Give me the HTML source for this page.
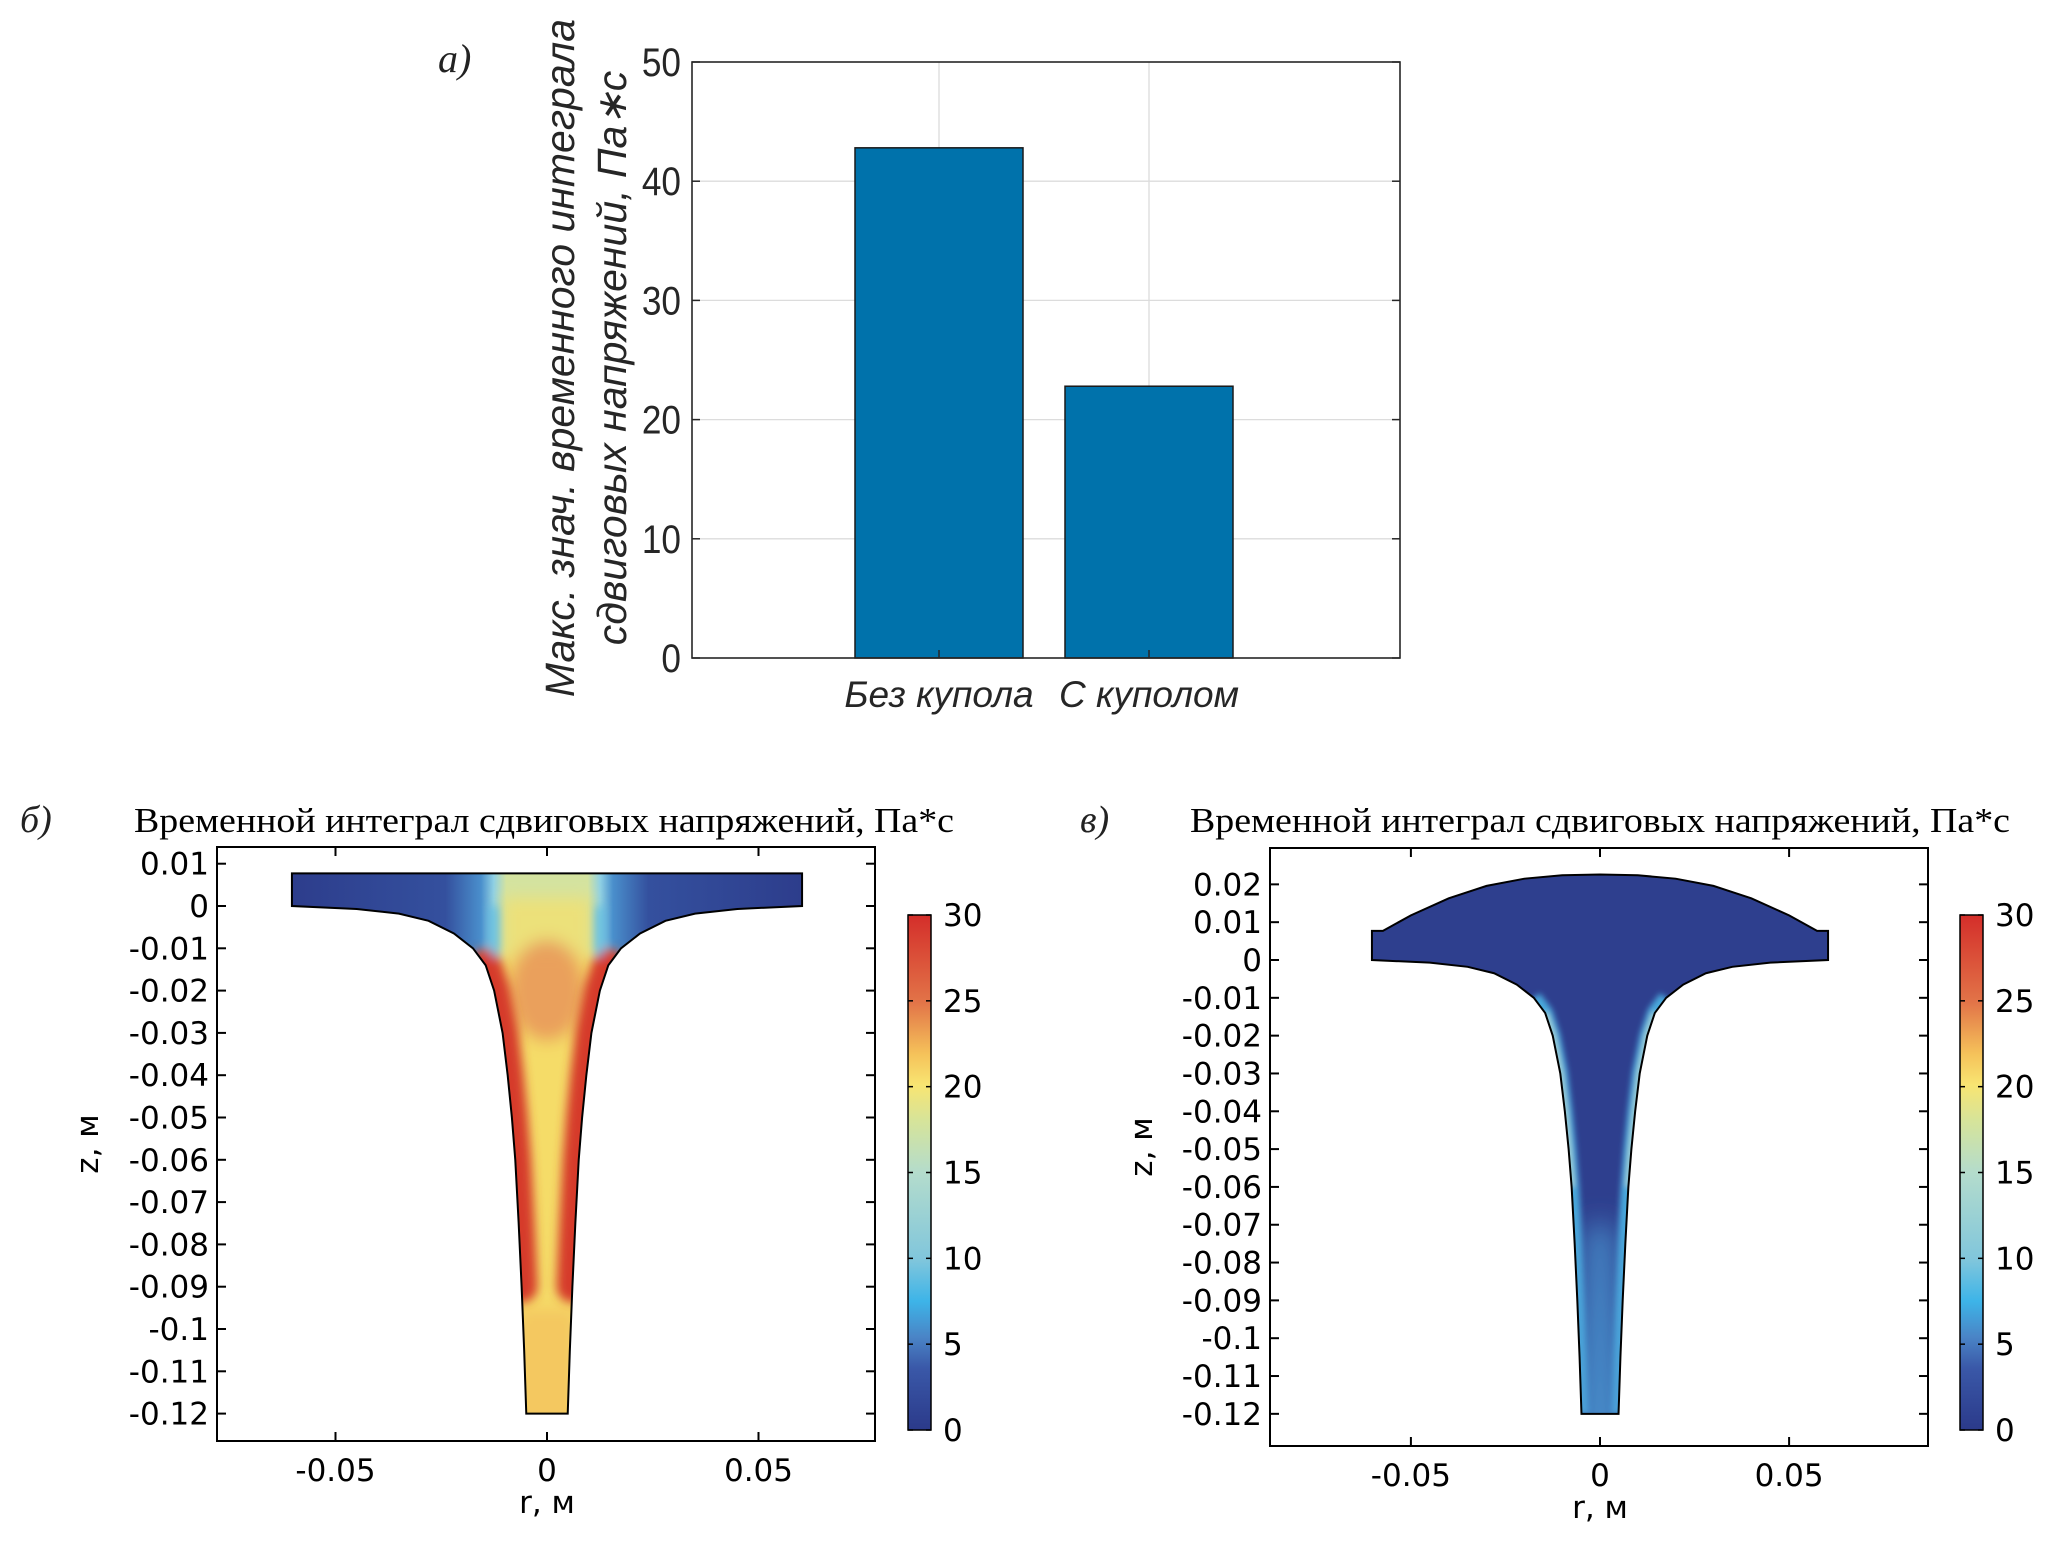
<!DOCTYPE html>
<html><head><meta charset="utf-8"><style>
html,body{margin:0;padding:0;background:#fff}
svg{display:block}
.sans{font-family:"Liberation Sans",sans-serif}
.dj{font-family:"DejaVu Sans","Liberation Sans",sans-serif}
.ser{font-family:"Liberation Serif",serif}
</style></head><body>
<svg id="svg" width="2067" height="1546" viewBox="0 0 2067 1546" xmlns="http://www.w3.org/2000/svg">
<defs>
<linearGradient id="cmap" x1="0" y1="1" x2="0" y2="0">
<stop offset="0" stop-color="#2b3a8a"/><stop offset="0.12" stop-color="#3a58a8"/><stop offset="0.18" stop-color="#4a84c6"/>
<stop offset="0.25" stop-color="#3db4e8"/><stop offset="0.33" stop-color="#80c6dc"/><stop offset="0.5" stop-color="#b4dccc"/>
<stop offset="0.6" stop-color="#d6e49a"/><stop offset="0.67" stop-color="#f8e572"/><stop offset="0.73" stop-color="#f5c25a"/>
<stop offset="0.83" stop-color="#e27448"/><stop offset="1" stop-color="#d42e2a"/>
</linearGradient>
<filter id="blur8" x="-50%" y="-50%" width="200%" height="200%"><feGaussianBlur stdDeviation="8"/></filter>
<filter id="blur5" x="-50%" y="-50%" width="200%" height="200%"><feGaussianBlur stdDeviation="5"/></filter>
<filter id="blur3" x="-50%" y="-50%" width="200%" height="200%"><feGaussianBlur stdDeviation="3"/></filter>
<filter id="blur14" x="-50%" y="-50%" width="200%" height="200%"><feGaussianBlur stdDeviation="14"/></filter>
</defs>
<g id="barchart"></g>
<g id="panelB"></g>
<g id="panelC"></g>
</svg>
<script>
const categories = ["Без купола", "С куполом"];
const barValues = [42.8, 22.8];
const barTicks = [0, 10, 20, 30, 40, 50];
const wallR = [0.06, 0.045, 0.035, 0.028, 0.022, 0.0175, 0.0145, 0.0125, 0.0105, 0.0093, 0.0083, 0.0075, 0.0067, 0.006, 0.0054, 0.0049];
const wallZ = [0, -0.0007, -0.0018, -0.0035, -0.0065, -0.0100, -0.0140, -0.0200, -0.0300, -0.0400, -0.0500, -0.0600, -0.0750, -0.0900, -0.1050, -0.1200];
const domeR = [0.0574, 0.05, 0.04, 0.03, 0.02, 0.01, 0];
const domeZ = [0.0077, 0.0118, 0.0163, 0.0196, 0.0215, 0.0224, 0.0226];
const rimTop = 0.0077;
const rimR = 0.0603;
const xTicksR = [-0.05, 0, 0.05];
const xTickLabels = ["-0.05", "0", "0.05"];
const yTicksB = [0.01,0,-0.01,-0.02,-0.03,-0.04,-0.05,-0.06,-0.07,-0.08,-0.09,-0.1,-0.11,-0.12];
const yTicksC = [0.02,0.01,0,-0.01,-0.02,-0.03,-0.04,-0.05,-0.06,-0.07,-0.08,-0.09,-0.1,-0.11,-0.12];
const cbTicks = [0,5,10,15,20,25,30];

const NS="http://www.w3.org/2000/svg";
function mk(parent,tag,attrs,text){const e=document.createElementNS(NS,tag);for(const k in attrs)e.setAttribute(k,attrs[k]);if(text!==undefined)e.textContent=text;parent.appendChild(e);return e;}
function fmt(v){return v===0?"0":String(v);}

// ---------- Bar chart ----------
(function(){
const g=document.getElementById('barchart');
const L=692,R=1400,T=62,B=658;
const y=v=>B-(v/50)*(B-T);
const xc=[939,1149], bw=168;
mk(g,'rect',{x:L,y:T,width:R-L,height:B-T,fill:'#fff'});
barTicks.forEach(t=>{ if(t>0&&t<50){const l=mk(g,'line',{x1:L,x2:R,y1:y(t),y2:y(t),stroke:'#dcdcdc','stroke-width':1.3});

}});
xc.forEach(c=>{const l=mk(g,'line',{x1:c,x2:c,y1:T,y2:B,stroke:'#dcdcdc','stroke-width':1.3});

});
barValues.forEach((v,i)=>{const r=mk(g,'rect',{x:xc[i]-bw/2,y:y(v),width:bw,height:B-y(v),fill:'#0072ab',stroke:'#1a1a1a','stroke-width':1.5});

});
mk(g,'rect',{x:L,y:T,width:R-L,height:B-T,fill:'none',stroke:'#262626','stroke-width':1.6});
barTicks.forEach(t=>{mk(g,'line',{x1:L,x2:L+8,y1:y(t),y2:y(t),stroke:'#262626','stroke-width':1.5});mk(g,'line',{x1:R-8,x2:R,y1:y(t),y2:y(t),stroke:'#262626','stroke-width':1.5});
const tx=mk(g,'text',{x:681/0.88,y:y(t)+14,'text-anchor':'end','font-size':40,class:'sans',fill:'#262626',transform:'scale(0.88,1)'},t);

});
xc.forEach((c,i)=>{mk(g,'line',{x1:c,x2:c,y1:B-8,y2:B,stroke:'#262626','stroke-width':1.5});
const tx=mk(g,'text',{x:c,y:707,'text-anchor':'middle','font-size':37,'font-style':'italic',class:'sans',fill:'#262626'},categories[i]);

});
const yl=mk(g,'text',{transform:'translate(574,358) rotate(-90)','text-anchor':'middle','font-size':41,'font-style':'italic',class:'sans',fill:'#262626'},'Макс. знач. временного интеграла');


const yl2=mk(g,'text',{transform:'translate(626,358) rotate(-90)','text-anchor':'middle','font-size':41,'font-style':'italic',class:'sans',fill:'#262626'},'сдвиговых напряжений, Па∗с');


const lb=mk(g,'text',{x:438,y:72,'font-size':40,'font-style':'italic',class:'ser',fill:'#222'},'а)');


})();

// ---------- Contour panels ----------
function shapePath(xr,yz,dome){
let d=`M${xr(-rimR)},${yz(0)} L${xr(-rimR)},${yz(rimTop)} `;
if(dome){ d+=`L${xr(-domeR[0])},${yz(rimTop)} `;
 for(let i=1;i<domeR.length;i++) d+=`L${xr(-domeR[i])},${yz(domeZ[i])} `;
 for(let i=domeR.length-2;i>=0;i--) d+=`L${xr(domeR[i])},${yz(domeZ[i])} `;
}
d+=`L${xr(rimR)},${yz(rimTop)} L${xr(rimR)},${yz(0)} `;
for(let i=1;i<wallR.length;i++) d+=`L${xr(wallR[i])},${yz(wallZ[i])} `;
for(let i=wallR.length-1;i>=1;i--) d+=`L${xr(-wallR[i])},${yz(wallZ[i])} `;
return d+'Z';
}
function wallPath(xr,yz,side,scale,from,to){
let d='';for(let i=from;i<=to;i++){d+=(i===from?'M':'L')+xr(side*wallR[i]*scale)+','+yz(wallZ[i])+' ';}return d;
}
function panel(id,o){
const g=document.getElementById(id);
const {L,R,T,B,x0,y0,k,yt,dome,lab,labX,titleX,cbx}=o;
const xr=r=>x0+r*k, yz=z=>y0-z*k;
const cid='clip'+id;
const cp=mk(g,'clipPath',{id:cid});mk(cp,'path',{d:shapePath(xr,yz,dome)});
const fill=mk(g,'g',{'clip-path':`url(#${cid})`});


const gid='hg'+id;
const gr=mk(g,'linearGradient',{id:gid,x1:xr(-0.06),x2:xr(0.06),y1:0,y2:0,gradientUnits:'userSpaceOnUse'});
if(!dome){
 [[0,'#2d3d8c'],[0.3,'#34509e'],[0.37,'#4a8fcc'],[0.395,'#8fd0e4'],[0.42,'#d4e3a0'],[0.58,'#d4e3a0'],[0.605,'#8fd0e4'],[0.63,'#4a8fcc'],[0.7,'#34509e'],[1,'#2d3d8c']].forEach(s=>mk(gr,'stop',{offset:s[0],'stop-color':s[1]}));
 mk(fill,'rect',{x:L,y:T,width:R-L,height:B-T,fill:`url(#${gid})`});
 const bl=mk(fill,'g',{filter:'url(#blur8)'});
 mk(bl,'rect',{x:xr(-0.0105),y:yz(0.002),width:0.021*k,height:0.02*k,fill:'#f3e070',opacity:0.8});
 mk(bl,'path',{d:`M${xr(-0.016)},${yz(-0.012)} L${xr(0.016)},${yz(-0.012)} L${xr(0.01)},${yz(-0.13)} L${xr(-0.01)},${yz(-0.13)} Z`,fill:'#f5dc68'});
 mk(bl,'ellipse',{cx:xr(0),cy:yz(-0.02),rx:0.009*k,ry:0.012*k,fill:'#e8955a',opacity:0.85});
 mk(bl,'rect',{x:xr(-0.007),y:yz(-0.095),width:0.014*k,height:0.035*k,fill:'#f4c860'});
 const bl2=mk(fill,'g',{filter:'url(#blur5)'});
 [-1,1].forEach(s=>{mk(bl2,'path',{d:wallPath(xr,yz,s,1.0,6,13),fill:'none',stroke:'#d63a2c','stroke-width':0.0075*k,'stroke-linecap':'round'});});
 [-1,1].forEach(s=>{mk(bl2,'path',{d:`M${xr(s*0.0125)},${yz(-0.0)} L${xr(s*0.0125)},${yz(-0.012)}`,fill:'none',stroke:'#45b3e6','stroke-width':6});});
}else{
 mk(fill,'rect',{x:L,y:T,width:R-L,height:B-T,fill:'#2e3f8e'});
 const bl=mk(fill,'g',{filter:'url(#blur3)'});
 [-1,1].forEach(s=>{mk(bl,'path',{d:wallPath(xr,yz,s,1,5,15),fill:'none',stroke:'#4aa8dc','stroke-width':0.004*k});});
 [-1,1].forEach(s=>{mk(bl,'path',{d:wallPath(xr,yz,s,1,6,11),fill:'none',stroke:'#a9d6d4','stroke-width':0.0015*k});});
 const bl2=mk(fill,'g',{filter:'url(#blur14)'});
 mk(bl2,'path',{d:`M${xr(-0.003)},${yz(-0.07)} L${xr(0.003)},${yz(-0.07)} L${xr(0.006)},${yz(-0.13)} L${xr(-0.006)},${yz(-0.13)} Z`,fill:'#4a9ad4',opacity:0.9});
}
const outline=mk(g,'path',{d:shapePath(xr,yz,dome),fill:'none',stroke:'#000','stroke-width':2});


const box=mk(g,'rect',{x:L,y:T,width:R-L,height:B-T,fill:'none',stroke:'#000','stroke-width':2});


yt.forEach(t=>{const yy=yz(t);mk(g,'line',{x1:L,x2:L+9,y1:yy,y2:yy,stroke:'#000','stroke-width':2});mk(g,'line',{x1:R-9,x2:R,y1:yy,y2:yy,stroke:'#000','stroke-width':2});
const tx=mk(g,'text',{x:L-8,y:yy+11,'text-anchor':'end','font-size':31,class:'dj',fill:'#000'},fmt(t));

});
xTicksR.forEach((t,i)=>{const xx=xr(t);mk(g,'line',{x1:xx,x2:xx,y1:B-9,y2:B,stroke:'#000','stroke-width':2});mk(g,'line',{x1:xx,x2:xx,y1:T,y2:T+9,stroke:'#000','stroke-width':2});
const tx=mk(g,'text',{x:xx,y:B+40,'text-anchor':'middle','font-size':31,class:'dj',fill:'#000'},xTickLabels[i]);

});
const xt=mk(g,'text',{x:xr(0),y:B+72,'text-anchor':'middle','font-size':31,class:'dj',fill:'#000'},'r, м');


const yl=mk(g,'text',{transform:`translate(${o.yTitleX},${(T+B)/2}) rotate(-90)`,'text-anchor':'middle','font-size':31,class:'dj',fill:'#000'},'z, м');


const ti=mk(g,'text',{x:titleX,y:832,'font-size':35,class:'ser',fill:'#000',textLength:o.titleW,lengthAdjust:'spacingAndGlyphs'},'Временной интеграл сдвиговых напряжений, Па*с');


const lb=mk(g,'text',{x:labX,y:832,'font-size':38,'font-style':'italic',class:'ser',fill:'#222'},lab);


// colorbar
const cT=915,cB=1430,cw=23;
const cb=mk(g,'rect',{x:cbx,y:cT,width:cw,height:cB-cT,fill:'url(#cmap)',stroke:'#000','stroke-width':1.5});


cbTicks.forEach(t=>{const yy=cB-(t/30)*(cB-cT);mk(g,'line',{x1:cbx,x2:cbx+5,y1:yy,y2:yy,stroke:'#000','stroke-width':1.5});mk(g,'line',{x1:cbx+cw-5,x2:cbx+cw,y1:yy,y2:yy,stroke:'#000','stroke-width':1.5});
const tx=mk(g,'text',{x:cbx+cw+12,y:yy+11,'font-size':31,class:'dj',fill:'#000'},t);

});
}
panel('panelB',{L:217,R:875,T:847,B:1441,x0:547,y0:906,k:4230,yt:yTicksB,dome:false,lab:'б)',labX:20,titleX:134,titleW:820,yTitleX:98,cbx:908});
panel('panelC',{L:1270,R:1928,T:848,B:1446,x0:1600,y0:960,k:3782,yt:yTicksC,dome:true,lab:'в)',labX:1080,titleX:1190,titleW:820,yTitleX:1152,cbx:1960});
</script>
</body></html>
